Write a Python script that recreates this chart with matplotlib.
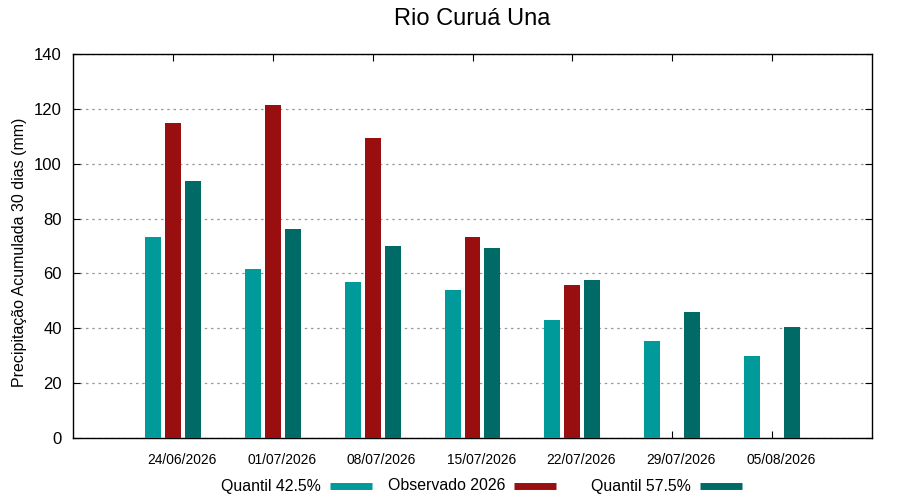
import matplotlib
matplotlib.use("Agg")
import matplotlib.pyplot as plt
from matplotlib.lines import Line2D
import numpy as np

plt.rcParams['font.family'] = ['Liberation Sans', 'DejaVu Sans']

datas = ["24/06/2026", "01/07/2026", "08/07/2026", "15/07/2026",
         "22/07/2026", "29/07/2026", "05/08/2026"]
q425 = [73.2, 61.6, 56.8, 53.9, 43.0, 35.4, 29.9]
observado = [115.0, 121.4, 109.2, 73.2, 55.7, np.nan, np.nan]
q575 = [93.6, 76.1, 69.9, 69.2, 57.5, 45.9, 40.4]
nomes = ['Quantil 42.5%', 'Observado 2026', 'Quantil 57.5%']

cor_q425 = '#009a9a'
cor_obs = '#990e0e'
cor_q575 = '#006a66'

fig = plt.figure(figsize=(9, 5), dpi=100)
ax = fig.add_axes([73/900, 62/500, 799/900, 384/500])

x = np.arange(1, len(datas) + 1)
w = 0.16
ax.bar(x - 0.2, q425, w, color=cor_q425, zorder=3)
ax.bar(x, observado, w, color=cor_obs, zorder=3)
ax.bar(x + 0.2, q575, w, color=cor_q575, zorder=3)

ax.set_xlim(0, 8)
ax.set_ylim(0, 140)
# marcas nos centros dos grupos, rótulos um pouco à direita (como no gnuplot)
ax.set_xticks(x)
ax.set_xticklabels([])
ax.set_xticks(x + 0.09, datas, minor=True, fontsize=9.9)
ax.tick_params(axis='x', which='minor', length=0, pad=11)
ax.tick_params(axis='x', which='major', direction='in', top=True, length=5)
ax.set_yticks(np.arange(0, 141, 20))
ax.tick_params(axis='y', labelsize=12, direction='in', right=True, length=5, pad=8)
ax.grid(axis='y', linestyle=(0, (2, 3)), color='#999999', linewidth=0.9, zorder=0)
for s in ax.spines.values():
    s.set_linewidth(1.0)

ax.set_ylabel('Precipitação Acumulada 30 dias (mm)', fontsize=11.5)
ax.yaxis.set_label_coords(-0.057, 0.484)
fig.text(472/900, 1 - 19/500, 'Rio Curuá Una', fontsize=17, ha='center', va='center')

# legenda estilo gnuplot: texto antes da amostra
cores = [cor_q425, cor_obs, cor_q575]
fim_texto = [321, 505, 691]
yl = 1 - 486/500
for nome, cor, xf in zip(nomes, cores, fim_texto):
    fig.text(xf/900, yl, nome, fontsize=11.4, ha='right', va='center')
    fig.add_artist(Line2D([(xf + 9)/900, (xf + 51)/900], [yl, yl],
                          color=cor, lw=5, solid_capstyle='butt',
                          transform=fig.transFigure))

fig.savefig('out.png', dpi=100)
